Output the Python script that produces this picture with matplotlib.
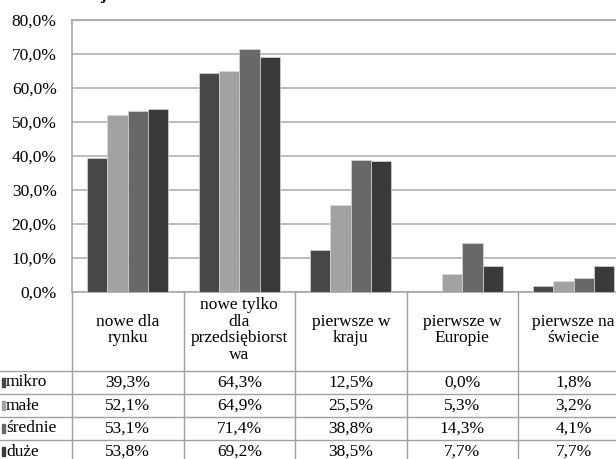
import matplotlib.pyplot as plt
import numpy as np

plt.rcParams['font.family'] = ['Liberation Serif', 'DejaVu Serif']

# innovation novelty by company size
categories = ["nowe dla\nrynku", "nowe tylko\ndla\nprzedsiębiorst\nwa",
              "pierwsze w\nkraju", "pierwsze w\nEuropie", "pierwsze na\nświecie"]
series = ["mikro", "małe", "średnie", "duże"]
mikro = [39.3, 64.3, 12.5, 0.0, 1.8]
male = [52.1, 64.9, 25.5, 5.3, 3.2]
srednie = [53.1, 71.4, 38.8, 14.3, 4.1]
duze = [53.8, 69.2, 38.5, 7.7, 7.7]
colors = ["#474747", "#a2a2a2", "#686868", "#3a3a3a"]
values = [mikro, male, srednie, duze]

FS = 12.5
W, H = 616, 459
fig = plt.figure(figsize=(W / 100, H / 100), dpi=100)

# chart area in pixels
x0, x1, y0, y1 = 72, 629.5, 292, 20
ax = fig.add_axes([x0 / W, (H - y0) / H, (x1 - x0) / W, (y0 - y1) / H])
ax.set_xlim(-0.5, 4.5)
ax.set_ylim(0, 80)
ax.set_yticks(np.arange(0, 81, 10))
ax.set_yticklabels([f"{t:.1f}%".replace(".", ",") for t in np.arange(0, 81, 10)], fontsize=FS)
ax.tick_params(axis='y', length=0, pad=11)
ax.set_xticks([])
ax.yaxis.grid(True, color='#b8b8b8', lw=1.3)
ax.set_axisbelow(True)
for s in ['left', 'bottom', 'top']:
    ax.spines[s].set_color('#a8a8a8')
    ax.spines[s].set_linewidth(1.2)
ax.spines['right'].set_visible(False)

x = np.arange(len(categories))
bw = 0.182
for i, (vals, c) in enumerate(zip(values, colors)):
    ax.bar(x + (i - 1.5) * bw, vals, bw, color=c, edgecolor='#d8d8d8', lw=0.5, zorder=3)

# data table under the chart, x in category units, y in pixels
tab = fig.add_axes([x0 / W, 0, (x1 - x0) / W, 1])
tab.set_xlim(-0.5, 4.5)
tab.set_ylim(H, 0)
tab.axis('off')
tab.patch.set_alpha(0)

px = (x1 - x0) / 5  # pixels per category
xl = -0.5 - x0 / px
rows = [371, 394, 417, 440]
row_h = 23
line_c = '#a0a0a0'
for r in rows:
    tab.plot([xl, 4.6], [r, r], color=line_c, lw=1, clip_on=False)
for k in range(6):
    tab.plot([k - 0.5, k - 0.5], [y0, H + 5], color=line_c, lw=1, clip_on=False)

for k, cat in enumerate(categories):
    tab.text(k, 330, cat, ha='center', va='center', fontsize=FS, linespacing=1.08)

for i, (name, vals, c) in enumerate(zip(series, values, colors)):
    yc = rows[i] + row_h / 2
    tab.add_patch(plt.Rectangle((xl + 1.5 / px, yc - 4.5), 3.5 / px, 9, color=c, clip_on=False))
    tab.text(xl + 6 / px, yc, name, ha='left', va='center', fontsize=FS)
    for k, v in enumerate(vals):
        tab.text(k, yc, f"{v:.1f}%".replace(".", ","), ha='center', va='center', fontsize=FS)

# chart title, mostly above the visible area
fig.text(103 / W, 1 + 1 / H, "j", fontsize=FS, fontweight='bold', ha='center', va='baseline')

fig.savefig("out.png", dpi=100)
